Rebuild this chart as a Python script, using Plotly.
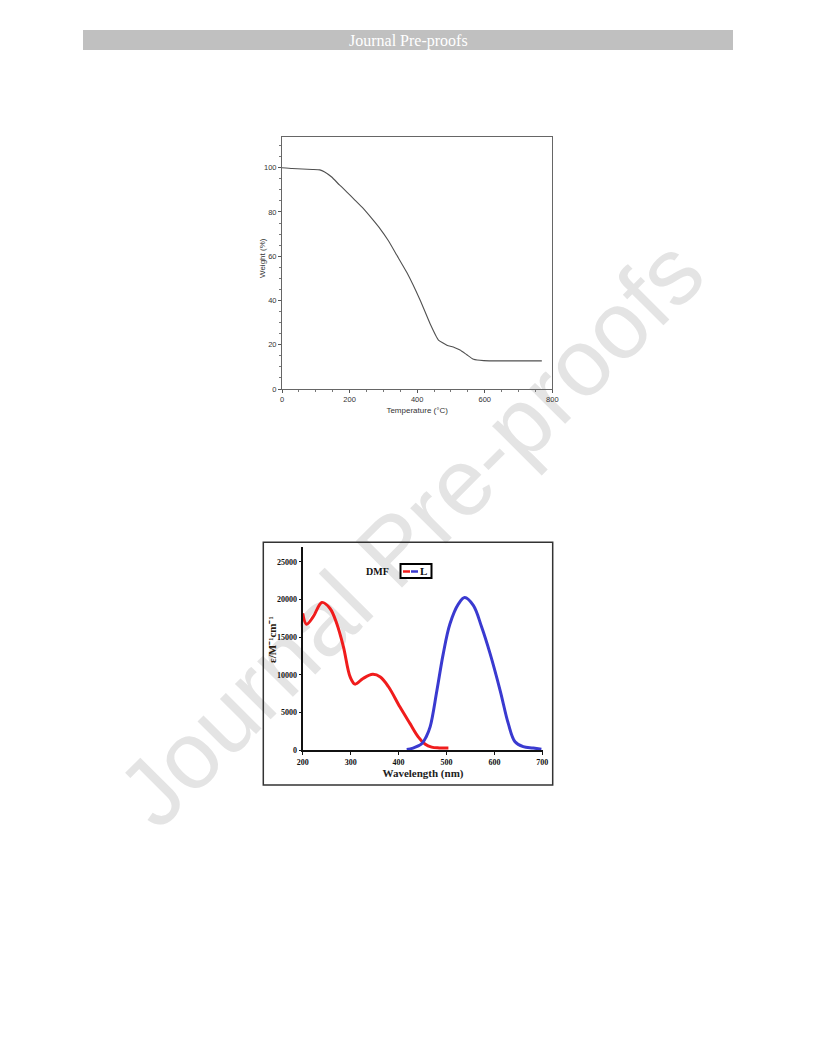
import plotly.graph_objects as go

# page is 816x1056 but the browser body has an 8px margin
OFF = 8
FW, FH = 816 - OFF, 1056 - OFF

# --- TGA data ---
tga_temp = [0, 30, 60, 90, 112, 125, 147, 170, 192, 215, 241, 265, 290, 315, 340,
            370, 409, 438, 463, 488, 510, 527, 547, 567, 597, 650, 700, 769]
tga_weight = [100, 99.6, 99.4, 99.2, 99.0, 98.2, 95.8, 92.2, 89.0, 85.5, 81.5, 77.2, 72.5,
              67.0, 60.4, 52.5, 40.1, 29.6, 22.1, 19.8, 18.8, 17.6, 15.5, 13.4, 12.8, 12.7,
              12.7, 12.7]
tga_xticks = [0, 200, 400, 600, 800]
tga_yticks = [0, 20, 40, 60, 80, 100]

# --- UV-Vis absorption (red) and emission (blue) data ---
abs_wl = [200, 208, 222, 240, 257, 271, 285, 299, 309, 326, 346, 362, 379, 403, 424,
          441, 455, 469, 485, 504]
abs_eps = [18150, 16700, 17700, 19600, 18800, 16800, 13700, 9700, 8750, 9500, 10050,
           9700, 8400, 5700, 3500, 1750, 800, 380, 280, 260]
em_wl = [417, 430, 448, 458, 466, 480, 493, 507, 525, 538, 556, 573, 591, 612, 629,
         643, 660, 681, 698]
em_eps = [80, 250, 800, 1800, 3100, 7900, 12700, 16700, 19400, 20250, 19200, 16400,
          12800, 7900, 3500, 1100, 440, 260, 100]
uv_xticks = [200, 300, 400, 500, 600, 700]
uv_yticks = [0, 5000, 10000, 15000, 20000, 25000]


def px(x):
    return (x - OFF) / FW


def py(y):
    return 1 - (y - OFF) / FH


fig = go.Figure()

fig.add_trace(go.Scatter(x=tga_temp, y=tga_weight, mode="lines",
                         line=dict(color="#505050", width=1.1, shape="spline", smoothing=0.4),
                         xaxis="x", yaxis="y", showlegend=False))
fig.add_trace(go.Scatter(x=abs_wl, y=abs_eps, mode="lines",
                         line=dict(color="#f01c1c", width=3, shape="spline", smoothing=1),
                         xaxis="x2", yaxis="y2", showlegend=False))
fig.add_trace(go.Scatter(x=em_wl, y=em_eps, mode="lines",
                         line=dict(color="#3a3ad0", width=3, shape="spline", smoothing=1),
                         xaxis="x2", yaxis="y2", showlegend=False))

tga_font = dict(family="Liberation Sans, Arial", size=7.5, color="#333")
ser_font = dict(family="Liberation Serif, Times New Roman", size=8, color="#111", weight="bold")

fig.update_layout(
    width=FW, height=FH, margin=dict(l=0, r=0, t=0, b=0, autoexpand=False),
    paper_bgcolor="white", plot_bgcolor="rgba(0,0,0,0)",
    showlegend=False,
    xaxis=dict(domain=[px(282), px(552.3)], anchor="y", range=[0, 800], automargin=False,
               tickvals=tga_xticks, ticks="outside", ticklen=3, tickcolor="#555",
               minor=dict(dtick=50, ticks="outside", ticklen=2, tickcolor="#777"),
               showline=True, mirror=True, linecolor="#666", linewidth=1,
               showgrid=False, zeroline=False, tickfont=tga_font,
               title=dict(text="Temperature (°C)", font=dict(family="Liberation Sans, Arial", size=8, color="#333"),
                          standoff=4)),
    yaxis=dict(domain=[py(389), py(136.7)], anchor="x", range=[0, 114], automargin=False,
               tickvals=tga_yticks, ticks="outside", ticklen=3, tickcolor="#555",
               minor=dict(dtick=5, ticks="outside", ticklen=2, tickcolor="#777"),
               showline=True, mirror=True, linecolor="#666", linewidth=1,
               showgrid=False, zeroline=False, tickfont=tga_font),
    xaxis2=dict(domain=[px(302.7), px(543.3)], anchor="y2", range=[200, 702], automargin=False,
                tickvals=uv_xticks, ticktext=[str(v) for v in uv_xticks],
                ticks="outside", ticklen=3, tickcolor="#111",
                showline=True, mirror=False, linecolor="#111", linewidth=2,
                showgrid=False, zeroline=False, tickfont=ser_font,
                title=dict(text="Wavelength (nm)",
                           font=dict(family="Liberation Serif, Times New Roman", size=11, color="#222", weight="bold"),
                           standoff=2)),
    yaxis2=dict(domain=[py(750), py(546.7)], anchor="x2", range=[0, 27000], automargin=False,
                tickvals=uv_yticks, ticktext=[str(v) for v in uv_yticks],
                ticks="outside", ticklen=2, tickcolor="#111",
                showline=True, mirror=False, linecolor="#111", linewidth=2,
                showgrid=False, zeroline=False, tickfont=ser_font),
)

shapes = [
    # header bar
    dict(type="rect", xref="paper", yref="paper", x0=px(83), x1=px(733), y0=py(50), y1=py(30),
         fillcolor="#c0c0c0", line=dict(width=0), layer="below"),
    # watermark (invisible line carrying the label)
    dict(type="line", xref="paper", yref="paper", x0=px(102), y0=py(829), x1=px(706), y1=py(223),
         line=dict(color="rgba(0,0,0,0)", width=0), layer="below",
         label=dict(text="Journal Pre-proofs", textposition="middle", yanchor="middle",
                    font=dict(family="Liberation Sans, Arial", size=95, color="#e4e4e4"))),
    # outer box of second figure
    dict(type="rect", xref="paper", yref="paper", x0=px(263.3), x1=px(552.7), y0=py(785), y1=py(542.3),
         line=dict(color="#333", width=1.5), fillcolor="rgba(0,0,0,0)"),
    # legend box
    dict(type="rect", xref="paper", yref="paper", x0=px(400.5), x1=px(431.5), y0=py(578), y1=py(564),
         line=dict(color="#000", width=2), fillcolor="white"),
    dict(type="line", xref="paper", yref="paper", x0=px(403), x1=px(410), y0=py(571.5), y1=py(571.5),
         line=dict(color="#f01c1c", width=2.5, dash="dash")),
    dict(type="line", xref="paper", yref="paper", x0=px(411), x1=px(418), y0=py(571.5), y1=py(571.5),
         line=dict(color="#3a3ad0", width=2.5, dash="dash")),
]
fig.update_layout(shapes=shapes)

fig.add_annotation(text="Journal Pre-proofs", xref="paper", yref="paper", x=px(408), y=py(40.5),
                   showarrow=False, xanchor="center", yanchor="middle",
                   font=dict(family="Liberation Serif, Times New Roman", size=16, color="white"))
fig.add_annotation(text="Weight (%)", xref="paper", yref="paper", x=px(262), y=py(258),
                   showarrow=False, xanchor="center", yanchor="middle", textangle=-90,
                   font=dict(family="Liberation Sans, Arial", size=8, color="#333"))
fig.add_annotation(text="ε/M⁻¹cm⁻¹", xref="paper", yref="paper", x=px(272), y=py(640),
                   showarrow=False, xanchor="center", yanchor="middle", textangle=-90,
                   font=dict(family="Liberation Serif, Times New Roman", size=11, color="#2a1a10", weight="bold"))
fig.add_annotation(text="DMF", xref="paper", yref="paper", x=px(377), y=py(571),
                   showarrow=False, xanchor="center", yanchor="middle",
                   font=dict(family="Liberation Serif, Times New Roman", size=10, color="#111", weight="bold"))
fig.add_annotation(text="L", xref="paper", yref="paper", x=px(423.5), y=py(571),
                   showarrow=False, xanchor="center", yanchor="middle",
                   font=dict(family="Liberation Serif, Times New Roman", size=11, color="#111", weight="bold"))

fig.write_html("out.html")
